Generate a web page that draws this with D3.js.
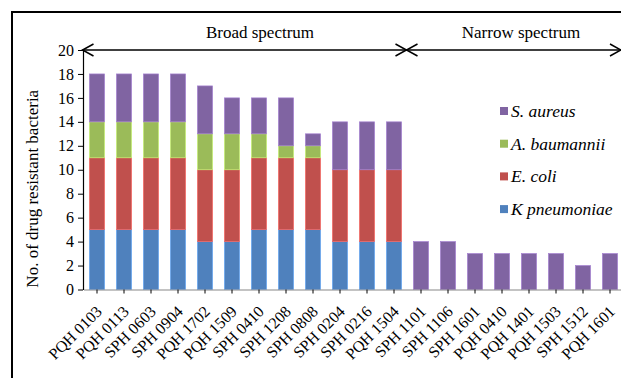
<!DOCTYPE html>
<html>
<head>
<meta charset="utf-8">
<script src="https://cdn.jsdelivr.net/npm/d3@7"></script>
<style>
  body { margin: 0; background: #fff; }
  svg { display: block; }
  text { font-family: "Liberation Serif", "Times New Roman", serif; fill: #000; }
</style>
</head>
<body>
<svg id="chart" width="621" height="378"></svg>
<script>
// ---- data ----
const categories = ["PQH 0103","PQH 0113","SPH 0603","SPH 0904","PQH 1702","PQH 1509","SPH 0410","SPH 1208","SPH 0808","SPH 0204","SPH 0216","PQH 1504",
                    "SPH 1101","SPH 1106","SPH 1601","PQH 0410","PQH 1401","PQH 1503","SPH 1512","PQH 1601"];
const kPneumoniae = [5,5,5,5,4,4,5,5,5,4,4,4, 0,0,0,0,0,0,0,0];
const eColi       = [6,6,6,6,6,6,6,6,6,6,6,6, 0,0,0,0,0,0,0,0];
const aBaumannii  = [3,3,3,3,3,3,2,1,1,0,0,0, 0,0,0,0,0,0,0,0];
const sAureus     = [4,4,4,4,4,3,3,4,1,4,4,4, 4,4,3,3,3,3,2,3];
const seriesNames = ["K pneumoniae","E. coli","A. baumannii","S. aureus"];
const seriesColors = ["#4F81BD","#C0504D","#9BBB59","#8064A2"];
const yTicks = [0,2,4,6,8,10,12,14,16,18,20];
const groupLabels = ["Broad spectrum","Narrow spectrum"];
const broadCount = 12;

// ---- layout ----
const FONT = "'Liberation Serif', 'Times New Roman', serif";
const svg = d3.select("#chart");
const x0 = 83.5, x1 = 623.5, yTop = 50, yBot = 289.5;

const x = d3.scaleBand().domain(categories).range([x0, x1]).paddingInner(0.44).paddingOuter(0.22);
const y = d3.scaleLinear().domain([0, 20]).range([yBot, yTop]);

// frame
svg.append("rect").attr("x", 12).attr("y", 12).attr("width", 620).attr("height", 380)
  .attr("fill", "none").attr("stroke", "#000").attr("stroke-width", 2);

// stacked data
const table = categories.map((c, i) => ({cat: c, s0: kPneumoniae[i], s1: eColi[i], s2: aBaumannii[i], s3: sAureus[i]}));
const stack = d3.stack().keys(["s0","s1","s2","s3"])(table);

const g = svg.append("g");
stack.forEach((layer, li) => {
  g.selectAll(null).data(layer.filter(d => d[1] - d[0] > 0)).enter().append("rect")
    .attr("x", d => x(d.data.cat))
    .attr("width", x.bandwidth())
    .attr("y", d => y(d[1]))
    .attr("height", d => y(d[0]) - y(d[1]))
    .attr("fill", seriesColors[li])
    .attr("stroke", d3.color(seriesColors[li]).brighter(0.7))
    .attr("stroke-width", 0.7);
});

// y axis
const yAxis = svg.append("g").attr("transform", `translate(${x0 - 0.5},0)`)
  .call(d3.axisLeft(y).tickValues(yTicks).tickSize(5).tickSizeOuter(0));
yAxis.attr("font-family", FONT);
yAxis.select(".domain").attr("stroke", "#000").attr("stroke-width", 1.2);
yAxis.selectAll(".tick line").attr("stroke", "#000");
yAxis.selectAll(".tick text").attr("font-size", 16).attr("x", -9);

// x axis
const xAxis = svg.append("g").attr("transform", `translate(0,${yBot})`)
  .call(d3.axisBottom(x).tickSize(4).tickSizeOuter(0));
xAxis.attr("font-family", FONT);
xAxis.select(".domain").attr("stroke", "#888").attr("stroke-width", 1.2);
xAxis.selectAll(".tick line").attr("stroke", "#000");
xAxis.selectAll(".tick text")
  .attr("font-size", 16)
  .attr("text-anchor", "end")
  .attr("dy", 0)
  .attr("y", 0)
  .attr("transform", "translate(6,23) rotate(-45)");

// y title
svg.append("text")
  .attr("transform", `translate(38,${(yTop + yBot) / 2 + 19}) rotate(-90)`)
  .attr("text-anchor", "middle")
  .attr("font-size", 17)
  .text("No. of drug resistant bacteria");

// spectrum arrow line
const midX = (x(categories[broadCount - 1]) + x.bandwidth() + x(categories[broadCount])) / 2 - 1;
const arrowY = y(20);
const ah = 11, aw = 6;
const line = d3.line();
svg.append("path").attr("d", line([[x0 - 1, arrowY], [621, arrowY]]))
  .attr("stroke", "#000").attr("stroke-width", 1.5).attr("fill", "none");
const heads = [
  [[x0 - 1 + ah, arrowY - aw], [x0 - 1, arrowY], [x0 - 1 + ah, arrowY + aw]],
  [[midX - ah, arrowY - aw], [midX, arrowY], [midX - ah, arrowY + aw]],
  [[midX + ah, arrowY - aw], [midX, arrowY], [midX + ah, arrowY + aw]],
  [[621 - ah, arrowY - aw], [621, arrowY], [621 - ah, arrowY + aw]]
];
heads.forEach(h => svg.append("path").attr("d", line(h))
  .attr("stroke", "#000").attr("stroke-width", 1.5).attr("fill", "none"));

svg.append("text").attr("x", 260).attr("y", 38)
  .attr("text-anchor", "middle").attr("font-size", 17).text(groupLabels[0]);
svg.append("text").attr("x", 521).attr("y", 38)
  .attr("text-anchor", "middle").attr("font-size", 17).text(groupLabels[1]);

// legend (top to bottom: S. aureus, A. baumannii, E. coli, K pneumoniae)
const legendOrder = [3, 2, 1, 0];
const lg = svg.append("g");
legendOrder.forEach((si, k) => {
  const cy = 111 + k * 32.7;
  lg.append("rect").attr("x", 500).attr("y", cy - 4).attr("width", 8).attr("height", 8)
    .attr("fill", seriesColors[si]);
  lg.append("text").attr("x", 511).attr("y", cy + 6)
    .attr("font-size", 17.5).attr("font-style", "italic").text(seriesNames[si]);
});
</script>
</body>
</html>
